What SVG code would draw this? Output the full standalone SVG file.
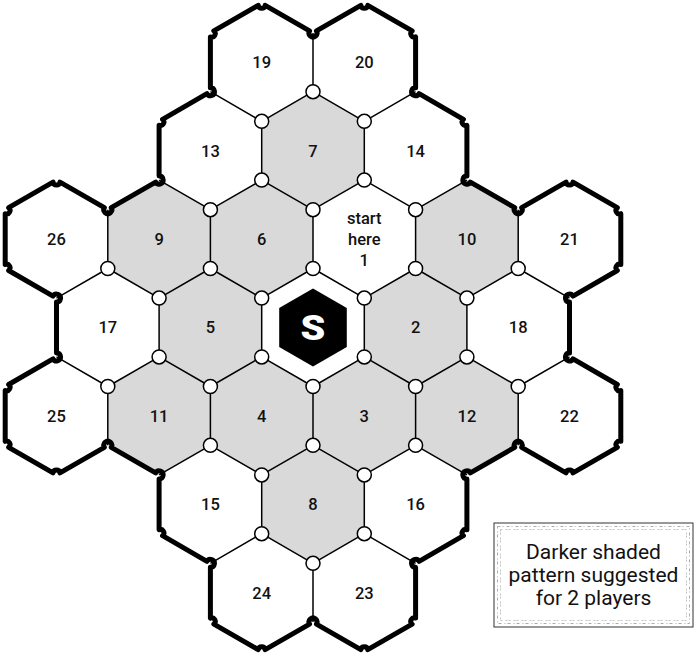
<svg xmlns="http://www.w3.org/2000/svg" xmlns:xlink="http://www.w3.org/1999/xlink" width="697" height="655" viewBox="0 0 697 655">
<style>
.w{fill:#fff}
.g{fill:#d9d9d9}
.edge{stroke:#000;stroke-width:1.5;fill:none;stroke-linejoin:round}
.border{stroke:#000;stroke-width:5;fill:none;stroke-linejoin:round;stroke-linecap:round}
.dot{fill:#fff;stroke:#000;stroke-width:1.5}
.lbl{font-family:Roboto,"Liberation Sans",sans-serif;font-size:16.5px;font-weight:500;text-anchor:middle;fill:#111}
.leg{font-family:Roboto,"Liberation Sans",sans-serif;font-size:21px;text-anchor:middle;fill:#111}
</style>
<defs>
<polygon id="hx" points="0,-59 51.3,-29.4 51.3,29.4 0,59 -51.3,29.4 -51.3,-29.4"/>
</defs>
<rect width="697" height="655" fill="#fff"/>
<g id="hexes">
<g id="hex-19"><use xlink:href="#hx" x="261.7" y="62.3" class="w"/><text class="lbl" x="261.7" y="68.2">19</text></g>
<g id="hex-20"><use xlink:href="#hx" x="364.3" y="62.3" class="w"/><text class="lbl" x="364.3" y="68.2">20</text></g>
<g id="hex-13"><use xlink:href="#hx" x="210.4" y="150.7" class="w"/><text class="lbl" x="210.4" y="156.6">13</text></g>
<g id="hex-7"><use xlink:href="#hx" x="313" y="150.7" class="g"/><text class="lbl" x="313" y="156.6">7</text></g>
<g id="hex-14"><use xlink:href="#hx" x="415.6" y="150.7" class="w"/><text class="lbl" x="415.6" y="156.6">14</text></g>
<g id="hex-26"><use xlink:href="#hx" x="56.5" y="239.1" class="w"/><text class="lbl" x="56.5" y="245">26</text></g>
<g id="hex-9"><use xlink:href="#hx" x="159.1" y="239.1" class="g"/><text class="lbl" x="159.1" y="245">9</text></g>
<g id="hex-6"><use xlink:href="#hx" x="261.7" y="239.1" class="g"/><text class="lbl" x="261.7" y="245">6</text></g>
<g id="hex-1"><use xlink:href="#hx" x="364.3" y="239.1" class="w"/><text class="lbl" x="364.3" y="223.5">start</text><text class="lbl" x="364.3" y="244.5">here</text><text class="lbl" x="364.3" y="265.8">1</text></g>
<g id="hex-10"><use xlink:href="#hx" x="466.9" y="239.1" class="g"/><text class="lbl" x="466.9" y="245">10</text></g>
<g id="hex-21"><use xlink:href="#hx" x="569.5" y="239.1" class="w"/><text class="lbl" x="569.5" y="245">21</text></g>
<g id="hex-17"><use xlink:href="#hx" x="107.8" y="327.5" class="w"/><text class="lbl" x="107.8" y="333.4">17</text></g>
<g id="hex-5"><use xlink:href="#hx" x="210.4" y="327.5" class="g"/><text class="lbl" x="210.4" y="333.4">5</text></g>
<g id="hex-S"><use xlink:href="#hx" x="313" y="327.5" class="w"/><polygon points="313,288.5 346.8,308 346.8,347 313,366.5 279.2,347 279.2,308" fill="#000"/><text x="313" y="340" font-family="Roboto,'Liberation Sans',sans-serif" font-size="36" font-weight="900" fill="#fff" text-anchor="middle" transform="translate(313 0) scale(1.1 1) translate(-313 0)">S</text></g>
<g id="hex-2"><use xlink:href="#hx" x="415.6" y="327.5" class="g"/><text class="lbl" x="415.6" y="333.4">2</text></g>
<g id="hex-18"><use xlink:href="#hx" x="518.2" y="327.5" class="w"/><text class="lbl" x="518.2" y="333.4">18</text></g>
<g id="hex-25"><use xlink:href="#hx" x="56.5" y="415.9" class="w"/><text class="lbl" x="56.5" y="421.8">25</text></g>
<g id="hex-11"><use xlink:href="#hx" x="159.1" y="415.9" class="g"/><text class="lbl" x="159.1" y="421.8">11</text></g>
<g id="hex-4"><use xlink:href="#hx" x="261.7" y="415.9" class="g"/><text class="lbl" x="261.7" y="421.8">4</text></g>
<g id="hex-3"><use xlink:href="#hx" x="364.3" y="415.9" class="g"/><text class="lbl" x="364.3" y="421.8">3</text></g>
<g id="hex-12"><use xlink:href="#hx" x="466.9" y="415.9" class="g"/><text class="lbl" x="466.9" y="421.8">12</text></g>
<g id="hex-22"><use xlink:href="#hx" x="569.5" y="415.9" class="w"/><text class="lbl" x="569.5" y="421.8">22</text></g>
<g id="hex-15"><use xlink:href="#hx" x="210.4" y="504.3" class="w"/><text class="lbl" x="210.4" y="510.2">15</text></g>
<g id="hex-8"><use xlink:href="#hx" x="313" y="504.3" class="g"/><text class="lbl" x="313" y="510.2">8</text></g>
<g id="hex-16"><use xlink:href="#hx" x="415.6" y="504.3" class="w"/><text class="lbl" x="415.6" y="510.2">16</text></g>
<g id="hex-24"><use xlink:href="#hx" x="261.7" y="592.7" class="w"/><text class="lbl" x="261.7" y="598.6">24</text></g>
<g id="hex-23"><use xlink:href="#hx" x="364.3" y="592.7" class="w"/><text class="lbl" x="364.3" y="598.6">23</text></g>
</g>
<g id="connectors">
<path class="edge" d="M313,32.9V91.7 M261.7,121.3V180.1 M364.3,121.3V180.1
M107.8,209.7V268.5 M210.4,209.7V268.5 M313,209.7V268.5 M415.6,209.7V268.5 M518.2,209.7V268.5
M159.1,298.1V356.9 M261.7,298.1V356.9 M364.3,298.1V356.9 M466.9,298.1V356.9
M107.8,386.5V445.3 M210.4,386.5V445.3 M313,386.5V445.3 M415.6,386.5V445.3 M518.2,386.5V445.3
M261.7,474.9V533.7 M364.3,474.9V533.7 M313,563.3V622.1
M210.4,91.7L261.7,121.3L313,91.7L364.3,121.3L415.6,91.7
M159.1,180.1L210.4,209.7L261.7,180.1L313,209.7L364.3,180.1L415.6,209.7L466.9,180.1
M56.5,298.1L107.8,268.5L159.1,298.1L210.4,268.5L261.7,298.1L313,268.5L364.3,298.1L415.6,268.5L466.9,298.1L518.2,268.5L569.5,298.1
M56.5,356.9L107.8,386.5L159.1,356.9L210.4,386.5L261.7,356.9L313,386.5L364.3,356.9L415.6,386.5L466.9,356.9L518.2,386.5L569.5,356.9
M159.1,474.9L210.4,445.3L261.7,474.9L313,445.3L364.3,474.9L415.6,445.3L466.9,474.9
M210.4,563.3L261.7,533.7L313,563.3L364.3,533.7L415.6,563.3"/>
</g>
<g id="border">
<path class="border" d="M213.86,30.9 L258.24,5.3 A3.5,3.5 0 0 0 265.16,5.3 L309.54,30.9 A4,4 0 1 0 316.46,30.9 L360.84,5.3 A3.5,3.5 0 0 0 367.76,5.3 L412.14,30.9 A3.5,3.5 0 0 0 415.6,36.9 L415.6,87.7 A4,4 0 1 0 419.06,93.7 L463.44,119.3 A3.5,3.5 0 0 0 466.9,125.3 L466.9,176.1 A4,4 0 1 0 470.36,182.1 L514.74,207.7 A4,4 0 1 0 521.66,207.7 L566.04,182.1 A3.5,3.5 0 0 0 572.96,182.1 L617.34,207.7 A3.5,3.5 0 0 0 620.8,213.7 L620.8,264.5 A3.5,3.5 0 0 0 617.34,270.5 L572.96,296.1 A4,4 0 1 0 569.5,302.1 L569.5,352.9 A4,4 0 1 0 572.96,358.9 L617.34,384.5 A3.5,3.5 0 0 0 620.8,390.5 L620.8,441.3 A3.5,3.5 0 0 0 617.34,447.3 L572.96,472.9 A3.5,3.5 0 0 0 566.04,472.9 L521.66,447.3 A4,4 0 1 0 514.74,447.3 L470.36,472.9 A4,4 0 1 0 466.9,478.9 L466.9,529.7 A3.5,3.5 0 0 0 463.44,535.7 L419.06,561.3 A4,4 0 1 0 415.6,567.3 L415.6,618.1 A3.5,3.5 0 0 0 412.14,624.1 L367.76,649.7 A3.5,3.5 0 0 0 360.84,649.7 L316.46,624.1 A4,4 0 1 0 309.54,624.1 L265.16,649.7 A3.5,3.5 0 0 0 258.24,649.7 L213.86,624.1 A3.5,3.5 0 0 0 210.4,618.1 L210.4,567.3 A4,4 0 1 0 206.94,561.3 L162.56,535.7 A3.5,3.5 0 0 0 159.1,529.7 L159.1,478.9 A4,4 0 1 0 155.64,472.9 L111.26,447.3 A4,4 0 1 0 104.34,447.3 L59.96,472.9 A3.5,3.5 0 0 0 53.04,472.9 L8.66,447.3 A3.5,3.5 0 0 0 5.2,441.3 L5.2,390.5 A3.5,3.5 0 0 0 8.66,384.5 L53.04,358.9 A4,4 0 1 0 56.5,352.9 L56.5,302.1 A4,4 0 1 0 53.04,296.1 L8.66,270.5 A3.5,3.5 0 0 0 5.2,264.5 L5.2,213.7 A3.5,3.5 0 0 0 8.66,207.7 L53.04,182.1 A3.5,3.5 0 0 0 59.96,182.1 L104.34,207.7 A4,4 0 1 0 111.26,207.7 L155.64,182.1 A4,4 0 1 0 159.1,176.1 L159.1,125.3 A3.5,3.5 0 0 0 162.56,119.3 L206.94,93.7 A4,4 0 1 0 210.4,87.7 L210.4,36.9 A3.5,3.5 0 0 0 213.86,30.9 Z"/>
</g>
<g id="junctions">
<circle class="dot" cx="261.7" cy="121.3" r="7"/><circle class="dot" cx="364.3" cy="121.3" r="7"/>
<circle class="dot" cx="210.4" cy="209.7" r="7"/><circle class="dot" cx="313" cy="209.7" r="7"/><circle class="dot" cx="415.6" cy="209.7" r="7"/>
<circle class="dot" cx="159.1" cy="298.1" r="7"/><circle class="dot" cx="261.7" cy="298.1" r="7"/><circle class="dot" cx="364.3" cy="298.1" r="7"/><circle class="dot" cx="466.9" cy="298.1" r="7"/>
<circle class="dot" cx="107.8" cy="386.5" r="7"/><circle class="dot" cx="210.4" cy="386.5" r="7"/><circle class="dot" cx="313" cy="386.5" r="7"/><circle class="dot" cx="415.6" cy="386.5" r="7"/><circle class="dot" cx="518.2" cy="386.5" r="7"/>
<circle class="dot" cx="261.7" cy="474.9" r="7"/><circle class="dot" cx="364.3" cy="474.9" r="7"/>
<circle class="dot" cx="313" cy="563.3" r="7"/>
<circle class="dot" cx="313" cy="91.7" r="7"/>
<circle class="dot" cx="261.7" cy="180.1" r="7"/><circle class="dot" cx="364.3" cy="180.1" r="7"/>
<circle class="dot" cx="107.8" cy="268.5" r="7"/><circle class="dot" cx="210.4" cy="268.5" r="7"/><circle class="dot" cx="313" cy="268.5" r="7"/><circle class="dot" cx="415.6" cy="268.5" r="7"/><circle class="dot" cx="518.2" cy="268.5" r="7"/>
<circle class="dot" cx="159.1" cy="356.9" r="7"/><circle class="dot" cx="261.7" cy="356.9" r="7"/><circle class="dot" cx="364.3" cy="356.9" r="7"/><circle class="dot" cx="466.9" cy="356.9" r="7"/>
<circle class="dot" cx="210.4" cy="445.3" r="7"/><circle class="dot" cx="313" cy="445.3" r="7"/><circle class="dot" cx="415.6" cy="445.3" r="7"/>
<circle class="dot" cx="261.7" cy="533.7" r="7"/><circle class="dot" cx="364.3" cy="533.7" r="7"/>
</g>
<g id="legend">
<rect x="494" y="523" width="199" height="104" fill="#fff" stroke="#333" stroke-width="1"/>
<rect x="497.5" y="526.5" width="192" height="97" fill="none" stroke="#aaa" stroke-width="1" stroke-dasharray="3 2 1 3"/>
<rect x="500.5" y="529.5" width="186" height="91" fill="none" stroke="#c4c4c4" stroke-width="1" stroke-dasharray="2 3 2 1"/>
<text class="leg" x="593.5" y="559">Darker shaded</text>
<text class="leg" x="593.5" y="582">pattern suggested</text>
<text class="leg" x="593.5" y="605">for 2 players</text>
</g>
</svg>
